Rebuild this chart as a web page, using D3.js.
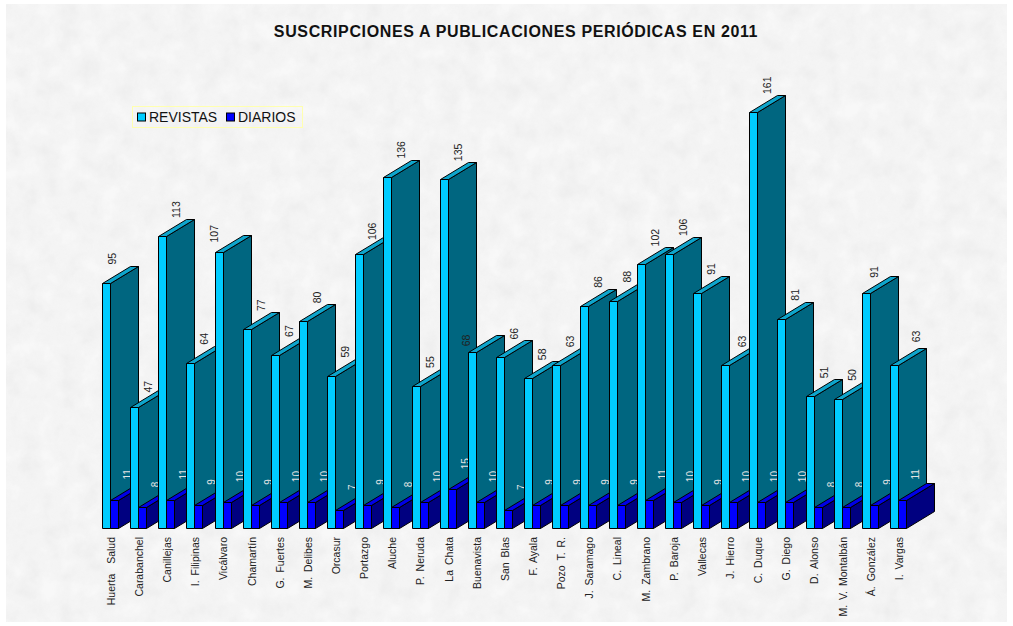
<!DOCTYPE html>
<html>
<head>
<meta charset="utf-8">
<script src="https://cdn.jsdelivr.net/npm/d3@7"></script>
<style>
  html, body { margin: 0; padding: 0; background: #fff; }
  text { font-family: "Liberation Sans", Arial, sans-serif; }
</style>
</head>
<body>
<div id="chart"></div>
<script>
const categories = ["Huerta  Salud", "Carabanchel", "Canillejas", "I. Filipinas", "Vicálvaro", "Chamartín", "G. Fuertes", "M. Delibes", "Orcasur", "Portazgo", "Aluche", "P. Neruda", "La Chata", "Buenavista", "San Blas", "F. Ayala", "Pozo T. R.", "J. Saramago", "C. Lineal", "M. Zambrano", "P. Baroja", "Vallecas", "J. Hierro", "C. Duque", "G. Diego", "D. Alonso", "M. V. Montalbán", "Á. González", "I. Vargas"];
const revistas = [95, 47, 113, 64, 107, 77, 67, 80, 59, 106, 136, 55, 135, 68, 66, 58, 63, 86, 88, 102, 106, 91, 63, 161, 81, 51, 50, 91, 63];
const diarios = [11, 8, 11, 9, 10, 9, 10, 10, 7, 9, 8, 10, 15, 10, 7, 9, 9, 9, 9, 11, 10, 9, 10, 10, 10, 8, 8, 9, 11];

const width = 1013, height = 626;
const barW = 8, depthX = 28, depthY = 17;

// A few value labels sit away from the usual spot, as in the original: [dx, dy]
const labelNudge = {
    0: [-8, 0], 1: [0, 4], 4: [-19, 9], 9: [-1, 4], 13: [-20, 12],
    22: [3, 0], 27: [-6, 3], 28: [8, -5]
};

const svg = d3.select("#chart").append("svg")
    .attr("width", width)
    .attr("height", height)
    .style("display", "block");

// Mottled paper background
const defs = svg.append("defs");
const paper = defs.append("filter").attr("id", "paper")
    .attr("x", 0).attr("y", 0).attr("width", 1).attr("height", 1)
    .attr("color-interpolation-filters", "sRGB");
paper.append("feTurbulence")
    .attr("type", "fractalNoise")
    .attr("baseFrequency", 0.05)
    .attr("numOctaves", 4)
    .attr("seed", 4);
paper.append("feColorMatrix")
    .attr("type", "matrix")
    .attr("values", "0 0 0 0 0.75  0 0 0 0 0.75  0 0 0 0 0.75  0.25 0 0 0 -0.05");
paper.append("feComposite").attr("in2", "SourceGraphic").attr("operator", "in");
paper.append("feBlend").attr("in2", "SourceGraphic").attr("mode", "normal");

svg.append("rect").attr("x", 6).attr("y", 4).attr("width", 1001).attr("height", 618)
    .attr("fill", "#f8f8f8")
    .attr("filter", "url(#paper)");

// Scales
const x = d3.scalePoint().domain(categories).range([102, 890]);
const y = d3.scaleLinear().domain([0, 161]).range([528, 112]);

// Title
svg.append("text")
    .attr("x", 516)
    .attr("y", 37)
    .attr("text-anchor", "middle")
    .style("font-size", "16px")
    .style("font-weight", "bold")
    .style("letter-spacing", "0.63px")
    .attr("fill", "#111")
    .text("SUSCRIPCIONES A PUBLICACIONES PERIÓDICAS EN 2011");

// One 3D column: side, top and front faces
function column(g, x0, value, colors) {
    const yTop = Math.round(y(value)) + 0.5, yBase = y(0) + 0.5, x1 = x0 + barW;
    const faces = [
        { fill: colors.side, pts: [[x1, yTop], [x1 + depthX, yTop - depthY], [x1 + depthX, yBase - depthY], [x1, yBase]] },
        { fill: colors.top, pts: [[x0, yTop], [x0 + depthX, yTop - depthY], [x1 + depthX, yTop - depthY], [x1, yTop]] },
        { fill: colors.front, pts: [[x0, yTop], [x1, yTop], [x1, yBase], [x0, yBase]] }
    ];
    g.selectAll(null)
        .data(faces)
        .enter().append("polygon")
        .attr("points", d => d.pts.join(" "))
        .attr("fill", d => d.fill)
        .attr("stroke", "#000")
        .attr("stroke-width", 1)
        .attr("stroke-linejoin", "round");
}

const revColors = { front: "#00ccff", top: "#0ea5cc", side: "#006680" };
const diaColors = { front: "#0000ff", top: "#0000e6", side: "#000080" };

// Columns are painted left to right so later ones cover earlier labels
categories.forEach(function(c, i) {
    const g = svg.append("g");
    const x0 = Math.round(x(c)) + 0.5;
    const nudge = labelNudge[i] || [0, 0];

    column(g, x0, revistas[i], revColors);
    column(g, x0 + barW, diarios[i], diaColors);

    g.append("text")
        .attr("transform", `translate(${x0 + 21 + nudge[0]},${y(revistas[i]) - 18 + nudge[1]}) rotate(-90)`)
        .style("font-size", "10.5px")
        .attr("fill", "#222")
        .text(revistas[i]);

    g.append("text")
        .attr("transform", `translate(${x0 + 28},${y(diarios[i]) - 20}) rotate(-90)`)
        .style("font-size", "10px")
        .attr("fill", "#e4e4e4")
        .text(diarios[i]);
});

// Category labels
const axis = svg.append("g")
    .attr("transform", "translate(0,528)")
    .call(d3.axisBottom(x).tickSize(0));
axis.select(".domain").remove();
axis.selectAll("text")
    .attr("transform", "rotate(-90)")
    .attr("x", -9)
    .attr("y", 9)
    .attr("dy", "0.32em")
    .attr("text-anchor", "end")
    .attr("fill", "#222")
    .style("white-space", "pre")
    .style("word-spacing", "2px")
    .style("font-size", "10.5px")
    .style("font-family", '"Liberation Sans", Arial, sans-serif');

// Legend
const legend = svg.append("g").attr("transform", "translate(132,106)");
legend.append("rect")
    .attr("x", 0.5).attr("y", 0.5)
    .attr("width", 170).attr("height", 21)
    .attr("fill", "none")
    .attr("stroke", "#ffffb0");
const legendItems = [
    { label: "REVISTAS", color: revColors.front, at: 5 },
    { label: "DIARIOS", color: diaColors.front, at: 94 }
];
legend.selectAll("rect.key")
    .data(legendItems)
    .enter().append("rect")
    .attr("class", "key")
    .attr("x", d => d.at + 0.5)
    .attr("y", 7)
    .attr("width", 8)
    .attr("height", 8)
    .attr("fill", d => d.color)
    .attr("stroke", "#000");
legend.selectAll("text")
    .data(legendItems)
    .enter().append("text")
    .attr("x", d => d.at + 12)
    .attr("y", 16)
    .style("font-size", "14px")
    .attr("fill", "#111")
    .text(d => d.label);
</script>
</body>
</html>
